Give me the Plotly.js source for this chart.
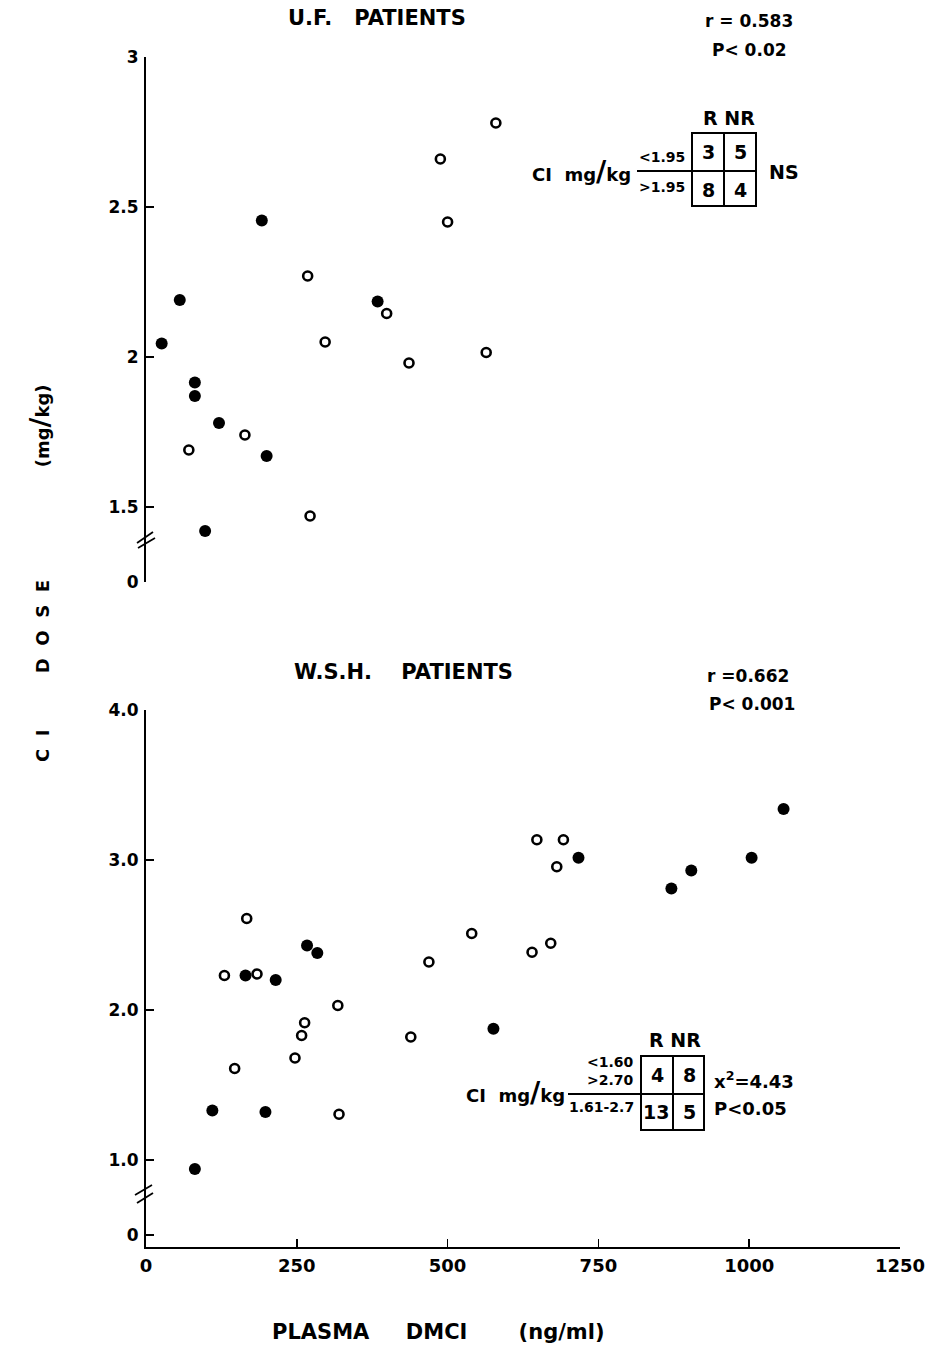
<!DOCTYPE html>
<html><head><meta charset="utf-8">
<script src="https://cdn.plot.ly/plotly-3.0.1.min.js"></script>
<style>body{margin:0;background:#fff}#chart{width:930px;height:1350px}</style>
</head><body><div id="chart"></div>
<script>
// ---- U.F. patients (open = responders, filled = non-responders)
const ufRespX = [71, 164, 268, 272, 297, 399, 436, 488, 500, 564, 580];
const ufRespY = [1.69, 1.74, 2.27, 1.47, 2.05, 2.145, 1.98, 2.66, 2.45, 2.015, 2.78];
const ufNonX = [26, 56, 192, 81, 81, 121, 200, 98, 384];
const ufNonY = [2.045, 2.19, 2.455, 1.915, 1.87, 1.78, 1.67, 1.42, 2.185];
// ---- W.S.H. patients
const wshRespX = [167, 540, 469, 130, 184, 318, 263, 258, 439, 247, 147, 320, 640, 671, 648, 692, 681];
const wshRespY = [2.61, 2.51, 2.32, 2.23, 2.24, 2.03, 1.915, 1.83, 1.82, 1.68, 1.61, 1.305, 2.385, 2.445, 3.135, 3.135, 2.955];
const wshNonX = [267, 284, 165, 215, 576, 110, 198, 81, 717, 1057, 1004, 904, 871];
const wshNonY = [2.43, 2.38, 2.23, 2.20, 1.875, 1.33, 1.32, 0.94, 3.015, 3.34, 3.015, 2.93, 2.81];

// ---- ticks
const xTickVals = [0, 250, 500, 750, 1000, 1250];
const xTickText = ['0', '250', '500', '750', '1000', '1250'];
const ufTickVals = [1.25, 1.5, 2, 2.5, 3];
const ufTickText = ['0', '1.5', '2', '2.5', '3'];
const wshTickVals = [0.5, 1, 2, 3, 4];
const wshTickText = ['0', '1.0', '2.0', '3.0', '4.0'];

// ---- contingency tables
const ufTable = [[3, 5], [8, 4]];
const ufRows = ['&lt;1.95', '&gt;1.95'];
const wshTable = [[4, 8], [13, 5]];
const wshRows = ['&lt;1.60<br>&gt;2.70', '1.61-2.7'];
const ufStats = ['r = 0.583', 'P&lt; 0.02', 'NS'];
const wshStats = ['r =0.662', 'P&lt; 0.001', 'x<sup>2</sup>=4.43', 'P&lt;0.05'];

const W = 930, H = 1350, ML = 146, MR = 30;
const px = x => (x - ML) / (W - ML - MR), py = y => 1 - y / H;
const FONT = 'DejaVu Sans';
const f = (s) => ({family: FONT, size: s, color: '#000', weight: 'bold'});

const openM = {symbol: 'circle-open', size: 9, color: '#000', line: {width: 2.6, color: '#000'}};
const fillM = {symbol: 'circle', size: 12, color: '#000', line: {width: 0}};

const traces = [
  {x: ufRespX, y: ufRespY, xaxis: 'x2', yaxis: 'y2', mode: 'markers', marker: openM, cliponaxis: false, type: 'scatter'},
  {x: ufNonX, y: ufNonY, xaxis: 'x2', yaxis: 'y2', mode: 'markers', marker: fillM, cliponaxis: false, type: 'scatter'},
  {x: wshRespX, y: wshRespY, xaxis: 'x', yaxis: 'y', mode: 'markers', marker: openM, cliponaxis: false, type: 'scatter'},
  {x: wshNonX, y: wshNonY, xaxis: 'x', yaxis: 'y', mode: 'markers', marker: fillM, cliponaxis: false, type: 'scatter'}
];

const ann = [];
function txt(t, x, y, size, xanchor, extra) {
  ann.push(Object.assign({text: t, x: px(x), y: py(y), xref: 'paper', yref: 'paper', showarrow: false,
    xanchor: xanchor || 'center', yanchor: 'middle', font: f(size)}, extra || {}));
}
// titles
txt('U.F.   PATIENTS', 377, 18, 21);
txt(ufStats[0], 749, 21, 17);
txt(ufStats[1], 749, 50, 17);
txt('W.S.H.    PATIENTS', 403, 672, 21);
txt(wshStats[0], 748, 676, 17);
txt(wshStats[1], 752, 704, 17);
txt('PLASMA     DMCI       (ng/ml)', 438, 1332, 21);
txt('C  I         D  O  S  E                  (mg<span style="font-size:27px">/</span>kg)', 40, 573, 18, 'center', {textangle: -90});

// top table
txt('CI  mg<span style="font-size:28px">/</span>kg', 633, 171, 18, 'right');
txt(ufRows[0], 687, 157, 14, 'right');
txt(ufRows[1], 687, 187, 14, 'right');
txt('R NR', 729, 118, 19);
txt(String(ufTable[0][0]), 708, 152, 19);
txt(String(ufTable[0][1]), 740, 152, 19);
txt(String(ufTable[1][0]), 708, 190, 19);
txt(String(ufTable[1][1]), 740, 190, 19);
txt(ufStats[2], 784, 172, 19);
// bottom table
txt('CI  mg<span style="font-size:28px">/</span>kg', 567, 1092, 18, 'right');
txt(wshRows[0], 636, 1071, 14, 'right');
txt(wshRows[1], 636, 1107, 14, 'right');
txt('R NR', 675, 1040, 19);
txt(String(wshTable[0][0]), 657, 1075, 19);
txt(String(wshTable[0][1]), 689, 1075, 19);
txt(String(wshTable[1][0]), 656, 1112, 19);
txt(String(wshTable[1][1]), 689, 1112, 19);
txt(wshStats[2], 712, 1080, 18, 'left');
txt(wshStats[3], 712, 1108, 18, 'left');

const shapes = [];
function line(x0, y0, x1, y1, w) {
  shapes.push({type: 'line', xref: 'paper', yref: 'paper', x0: px(x0), y0: py(y0), x1: px(x1), y1: py(y1),
    line: {color: '#000', width: w || 2}});
}
function rect(x0, y0, x1, y1) {
  shapes.push({type: 'rect', xref: 'paper', yref: 'paper', x0: px(x0), y0: py(y0), x1: px(x1), y1: py(y1),
    line: {color: '#000', width: 2}});
}
rect(692, 133, 756, 206); line(724, 133, 724, 206); line(637, 171, 756, 171);
rect(641, 1056, 704, 1130); line(673, 1056, 673, 1130); line(568, 1094, 704, 1094);
// axis break marks
line(137, 543, 153, 532, 1.8); line(138, 548, 155, 538, 1.8);
line(135, 1195, 152, 1185, 1.8); line(137, 1203, 153, 1193, 1.8);

const axY = {showline: true, linecolor: '#000', linewidth: 2, ticks: 'inside', ticklen: 8, tickwidth: 1.5,
  tickcolor: '#000', showgrid: false, zeroline: false, tickfont: f(17), ticklabelstandoff: 2};

const layout = {
  width: W, height: H, margin: {l: ML, r: MR, t: 0, b: 0}, showlegend: false,
  paper_bgcolor: '#fff', plot_bgcolor: '#fff', font: f(16),
  xaxis: {range: [0, 1250], anchor: 'y', tickvals: xTickVals, ticktext: xTickText, showline: true, linecolor: '#000',
    linewidth: 2, ticks: 'inside', ticklen: 8, tickwidth: 1.5, tickcolor: '#000', showgrid: false, zeroline: false,
    tickfont: f(18), ticklabelstandoff: 1},
  yaxis: Object.assign({}, axY, {domain: [py(1247), py(710)], range: [0.42, 4], tickvals: wshTickVals, ticktext: wshTickText, anchor: 'x'}),
  xaxis2: {range: [0, 1250], anchor: 'y2', visible: false},
  yaxis2: Object.assign({}, axY, {domain: [py(582), py(57)], range: [1.25, 3], tickvals: ufTickVals, ticktext: ufTickText, anchor: 'x2'}),
  annotations: ann, shapes: shapes
};
Plotly.newPlot('chart', traces, layout, {displayModeBar: false, staticPlot: true});
</script></body></html>
